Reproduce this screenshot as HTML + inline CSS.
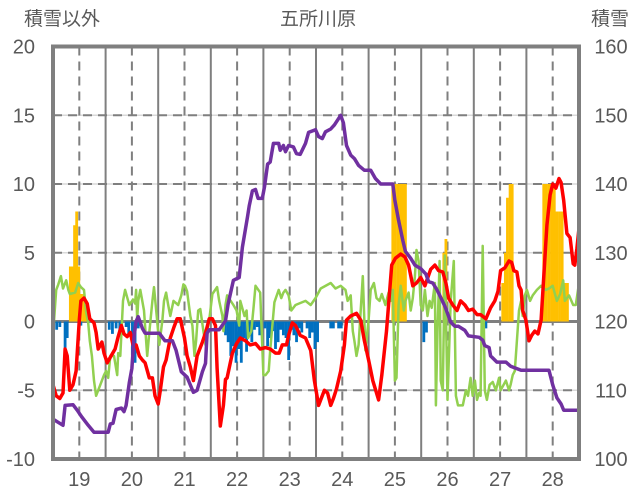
<!DOCTYPE html>
<html><head><meta charset="utf-8"><style>
html,body{margin:0;padding:0;background:#fff;}
svg{display:block;font-family:"Liberation Sans Narrow","Liberation Sans","Noto Sans CJK JP",sans-serif;}
</style></head><body>
<svg id="chart" width="636" height="501" xmlns="http://www.w3.org/2000/svg">
<text x="62" y="25" font-size="19" fill="#595959" text-anchor="middle" font-family="'Liberation Sans','Noto Sans CJK JP',sans-serif">積雪以外</text>
<text x="318" y="25" font-size="19" fill="#595959" text-anchor="middle" font-family="'Liberation Sans','Noto Sans CJK JP',sans-serif">五所川原</text>
<text x="610" y="25" font-size="19" fill="#595959" text-anchor="middle" font-family="'Liberation Sans','Noto Sans CJK JP',sans-serif">積雪</text>
<g id="grid"></g><g id="bars"></g><g id="lines"></g><g id="axes"></g>
</svg>
<script>
const xLabels=[19,20,21,22,23,24,25,26,27,28];
const leftTicks=[20,15,10,5,0,-5,-10];
const rightTicks=[160,150,140,130,120,110,100];
const purpleDays=[0,1.9,2.3,3.8,4.6,5.5,6.7,7.8,10.5,10.9,11.4,12,13,13.5,13.9,14.5,15,15.4,15.8,16.2,17,17.5,20.2,21.3,22.7,23.4,24.4,25.5,26.7,27.4,28.4,29,29.3,29.7,31.6,32.8,33.3,34.3,35.4,36,37,37.3,37.9,38.5,39,39.8,40.2,40.8,41.3,41.9,42.9,43.2,43.8,44.2,44.8,45.7,46.3,47,48,48.6,49.9,50.5,51.2,51.8,52.8,53.5,54.7,55.2,55.8,56.6,57.3,58.1,59.2,60.4,61.3,62.3,64.6,65,65.7,66.5,67,68,68.8,69.9,70.9,71.4,72.2,73,73.7,74.5,75,75.6,76.4,77.1,78.3,79,81,81.7,82.1,82.9,83.2,84.4,86.1,87,89,94.3,95,95.8,96.6,97.1,100];
const purpleVals=[105.8,104.9,107.8,107.9,107.1,106.1,104.9,103.9,103.9,105.1,105.2,107.2,107.4,106.9,107.8,111.1,113.2,117.8,120,120.7,119,118.3,118.3,117.2,117.2,115.8,112.7,111.9,109.7,110,112.7,113.9,118.3,118.8,118.8,120.1,122.6,126,126.4,130.8,135.3,136.8,139,139.2,137.9,137.9,139.6,142.9,143.2,145.9,145.9,144.9,145.6,144.7,145.6,145.4,144.4,144.3,145.9,147.5,147.9,146.9,146.6,147.6,148,148.6,150,148.9,145.6,144.2,143.7,142.7,142,142,140.8,140,140,137.6,134.7,131.8,130.2,129.2,128.2,127.7,126.9,125.8,125.6,124.6,123.5,122.2,121.2,119.9,119.3,119.3,118.7,117.9,117.7,117.3,116.5,116.2,115,114.1,114.1,113.5,112.9,112.9,110.8,108.9,108,107.1,107.1];
const redDays=[0,.6,1.3,1.9,2.3,2.7,3.2,3.8,4.4,5,5.3,5.9,6.5,7,7.8,8.2,8.6,9.3,9.7,10.3,11.2,11.8,12.4,13,13.5,14.1,14.7,15.2,15.8,16.4,17,17.5,18.3,18.9,19.4,20,20.4,21,21.5,22.3,23,23.6,24.2,25,25.5,26.1,26.7,27.4,28.4,29.1,29.7,30.3,30.9,31.2,31.8,32.4,32.8,33.1,33.7,34.1,34.9,35.6,36.6,37.5,38.5,39.4,40.4,41.3,42.3,43,43.6,44.4,44.8,45.5,46.1,47,48,49,49.7,50.5,50.9,51.6,52.2,52.8,53.3,53.9,54.7,55.4,55.8,56.6,57.7,58.5,59.2,60,60.8,61.9,62.5,63.4,64.4,65.1,66.1,66.9,67.6,68.4,69.1,69.9,70.7,71.8,72.6,73.3,74.1,74.7,75.2,76,76.8,77.5,78.3,79,79.8,80.6,81.3,82.3,83.2,84,84.6,85.1,85.9,86.7,87.2,87.6,88.2,88.6,89,89.3,89.9,90.5,91,91.6,92.2,92.8,93.3,93.9,94.5,95,95.6,96.2,96.6,97.1,97.7,98.3,98.9,99.2,99.6,100];
const redVals=[-4.6,-5.4,-5.6,-5.2,-2,-2.5,-5,-4.6,-3.6,0.1,1.5,1.7,1.3,.2,-.1,-.8,-2,-1.5,-2.3,-3,-2.4,-2,-1.1,-.3,-.9,-1.1,-.8,-1.7,-1.7,-2.5,-2.8,-3,-4.1,-4.1,-5.4,-6,-5,-3.3,-2.8,-1.2,-.4,.2,.2,-1.2,-2.5,-3.3,-4.3,-2.5,-1.5,-.7,.2,.2,-.3,-3.4,-7.6,-6.1,-4.2,-4.1,-3,-2.3,-1.6,-1.2,-1.4,-1.7,-1.6,-2,-1.9,-2,-2.3,-2.3,-1.7,-1.7,-1,-.1,-.3,-1,-1.2,-2.1,-4.3,-6.1,-5.7,-5,-5.2,-6.1,-5.6,-4.9,-3.6,-1.7,.1,.4,.6,.1,-1.4,-2.8,-4.3,-5.7,-3.9,-.7,4.1,4.6,4.9,4.7,4.1,2.6,2.8,3.2,2.6,3.8,4.1,3.7,3.6,2.8,1.7,1.2,.8,1.5,1.2,.8,.9,.5,.5,.2,1,1.5,2.2,3.7,3.9,4.4,4.3,3.7,3.6,2.6,2.3,.8,.1,-1.4,-1,-.7,-.9,.1,3.3,7,9.2,10,9.7,10.4,10.1,8.8,6.4,6.1,4.2,4.1,5.3,6.8];
const greenDays=[0,.6,1,1.5,1.9,2.5,2.9,3.2,4.2,4.8,5.3,5.9,6.3,6.7,7,7.4,7.8,8.2,9,9.7,10.1,10.5,10.9,11.6,12.2,12.4,12.8,13.3,13.7,14.5,15.2,15.6,15.8,16,16.2,16.6,17.3,17.9,18.3,18.9,19.2,19.8,20.2,20.8,21.1,21.5,21.9,22.3,22.9,23.8,24.4,24.8,25.1,25.5,26.1,26.5,26.9,27.2,27.6,28,28.6,29,29.3,29.7,30.3,31.2,31.6,32.2,32.4,32.8,33.1,34.3,34.9,35.4,35.6,36.4,36.8,37.1,37.7,38.1,38.5,39.4,40,40.4,41,41.3,42.1,42.9,43.4,43.8,44.2,44.8,45.3,46.1,48,49,49.9,50.9,52.8,53.7,54.7,55.6,56,56.6,57,57.3,57.7,58.1,58.5,58.9,59.4,60,60.4,61,61.5,62.1,62.5,63.2,63.8,64.2,64.6,65,65.3,65.7,66.1,66.7,67,67.6,68,68.4,68.8,69.1,69.5,69.9,70.3,70.7,71.2,71.6,72,72.6,72.8,73.1,73.5,73.7,74.1,74.5,75,75.6,76.2,76.6,77,77.9,78.5,78.9,79.4,79.8,80.2,80.6,81,81.3,81.7,82.1,82.5,83,83.6,84.2,84.8,85.1,86.1,86.7,87,87.4,87.8,88.2,88.6,89,89.3,89.7,90.1,90.7,91.2,92,92.8,93.7,94.3,95,95.8,96.4,97,97.3,98.1,98.9,99.4,100];
const greenVals=[-1,2.3,2.7,3.3,2.4,3,2.3,2,2.1,2.8,2.5,2.3,.7,-.1,-1.4,-2.5,-4.3,-5.4,-4.6,-3.9,-3.6,-4.1,-2.5,-2.5,-3.9,-2.3,-2.5,1.5,2.3,1.2,1.6,1.3,2.3,.2,1.5,2.3,.8,-2.5,-.8,1.5,2.5,.1,-1.7,.1,1.5,2.1,1.2,.4,1.5,1.2,1.9,2.7,2.6,2.2,.4,-.3,-2.5,-1.4,.8,.9,-.7,-1.7,-.7,.1,2,2.5,1.5,.4,-.7,1.2,1.9,1.2,.8,-.3,1.5,.4,.8,-1.2,-.7,.9,2.6,2.1,-3.9,-3.9,-3.6,-2.1,1.4,2.3,1.7,2.1,2.3,1.9,.8,1.2,1.5,1.2,1.7,2.4,2.8,2.4,2.6,2.3,1.5,1.9,-.7,-1.4,-2.5,-1.7,.8,3.3,-2.1,.1,2.3,2.8,1.7,1.5,2,1.2,2.1,1.5,2.3,-4.3,-4.1,1.2,2.6,.8,1.5,2.1,.8,1.7,3.3,5.2,4.4,1.2,.8,2.3,.4,1.5,1,2.8,-6.1,-.7,4.4,-4.3,-5,4.8,-5.7,1.5,4.4,-5.4,-6.1,-6.1,-5,-5.4,-4.1,-5.4,-4.3,-5.7,-5.2,-5.4,5.5,-5,-5.7,-4.6,-4.4,-5,-4.1,-5,-4.3,-5,-4.6,-3.9,-3.6,-1.4,.8,1.5,.4,1.9,2.3,1.5,1.9,2.3,2.6,2.3,2.4,2.6,1.5,2,3,1.5,1.9,1.2,1.2,2.8];
const orangeDays=[3.3,3.7,4.1,4.5,4.9,5.4,5.9,6.3,64.6,65.1,65.6,66.1,66.6,67.0,74.3,74.7,85.5,86.0,86.4,86.9,87.3,93.3,93.8,94.3,94.8,95.3,95.8,96.3,96.8,97.3,97.8];
const orangeVals=[4,4,7,8,4,2,2,1.5,10,10,10,10,10,10,5,6,2.8,5,9,10,10,10,10,10,10,10,8,8,8,2.8,2.8];
const blueDays=[0.7,1.3,2.3,2.7,5.3,10.7,11.3,12.0,12.7,13.9,14.4,15.1,15.6,16.2,32.8,33.3,33.8,34.3,34.8,35.3,35.8,36.3,36.8,37.3,37.8,38.3,38.8,39.3,40.3,40.8,41.3,41.8,42.3,42.8,43.3,43.8,44.3,44.8,45.3,45.8,46.3,46.8,47.3,48.3,48.8,49.3,49.8,50.3,52.8,53.3,54.3,54.8,70.5,71,82.3];
const blueVals=[-0.6,-0.4,-2.1,-1.2,-0.3,-0.6,-0.9,-0.5,-0.8,-0.4,-1,-2.5,-3,-0.5,-1,-1.5,-2.5,-1.8,-3,-2,-3,-1.2,-2.2,-0.8,-1.5,-0.6,-0.4,-1,-0.5,-1.8,-1.2,-0.7,-2,-1.5,-0.6,-1,-1.2,-2.8,-0.6,-1,-1.5,-0.5,-0.8,-0.5,-1.2,-0.8,-2,-1.5,-0.5,-0.5,-0.5,-0.5,-1.5,-0.8,-0.5];

const NS='http://www.w3.org/2000/svg';
const L=53,R=579,T=46.5,B=459;
const xs=d=>L+d*(R-L)/100;
const xCat=c=>L+(c-18.5)*(R-L)/10;
const yL=v=>B-(v+10)*(B-T)/30;
const yR=v=>B-(v-100)*(B-T)/60;
function mk(tag,attrs,parent){const e=document.createElementNS(NS,tag);for(const k in attrs)e.setAttribute(k,attrs[k]);parent.appendChild(e);return e;}
const svg=document.getElementById('chart');
const grid=document.getElementById('grid'),bars=document.getElementById('bars'),lines=document.getElementById('lines'),axes=document.getElementById('axes');

leftTicks.forEach(v=>{
  if(v!==0&&v!==20&&v!==-10){
    const g=mk('line',{x1:L,x2:R,y1:yL(v),y2:yL(v),stroke:'#d9d9d9','stroke-width':1.5},grid);
    
    
    const d=mk('line',{x1:L,x2:R,y1:yL(v),y2:yL(v),stroke:'#7f7f7f','stroke-width':2,'stroke-dasharray':'9,6'},grid);
    
    
  }
  const t=mk('text',{x:35,y:yL(v)+7,'font-size':20,fill:'#595959','text-anchor':'end'},axes);
  t.textContent=v;
  
  
});
rightTicks.forEach(v=>{
  const t=mk('text',{x:611,y:yR(v)+7,'font-size':20,fill:'#595959','text-anchor':'middle'},axes);
  t.textContent=v;
  
  
});
xLabels.forEach((c,i)=>{
  const dl=mk('line',{x1:xCat(c),x2:xCat(c),y1:T,y2:B,stroke:'#7f7f7f','stroke-width':2,'stroke-dasharray':'9,6'},grid);
  
  
  if(i>0){
    const sl=mk('line',{x1:xCat(c-0.5),x2:xCat(c-0.5),y1:T,y2:B,stroke:'#7f7f7f','stroke-width':2},grid);
    
    
  }
  const t=mk('text',{x:xCat(c),y:486,'font-size':20,fill:'#595959','text-anchor':'middle'},axes);
  t.textContent=c;
  
  
});
const z=mk('line',{x1:L,x2:R,y1:yL(0),y2:yL(0),stroke:'#7f7f7f','stroke-width':3},grid);



orangeDays.forEach((d,i)=>{
  const v=orangeVals[i];
  const r=mk('rect',{x:xs(d)-1.4,y:yL(v),width:2.8,height:yL(0)-yL(v),fill:'#ffc000'},bars);
  
  
});
blueDays.forEach((d,i)=>{
  const v=blueVals[i];
  const r=mk('rect',{x:xs(d)-1.4,y:yL(0),width:2.8,height:yL(v)-yL(0),fill:'#0070c0'},bars);
  
  
});
function path(days,vals,yf,color,w,name){
  const dstr=days.map((d,i)=>(i?'L':'M')+xs(d).toFixed(1)+','+yf(vals[i]).toFixed(1)).join('');
  const p=mk('path',{d:dstr,fill:'none',stroke:color,'stroke-width':w,'stroke-linejoin':'round'},lines);
  
  
}
path(greenDays,greenVals,yL,'#92d050',2.5,'green-series-line');
path(redDays,redVals,yL,'#ff0000',3.5,'red-series-line');
path(purpleDays,purpleVals,yR,'#7030a0',3.5,'snow-depth-line');

const f=mk('rect',{x:L,y:T,width:R-L,height:B-T,fill:'none',stroke:'#7f7f7f','stroke-width':4},axes);


</script>
</body></html>
